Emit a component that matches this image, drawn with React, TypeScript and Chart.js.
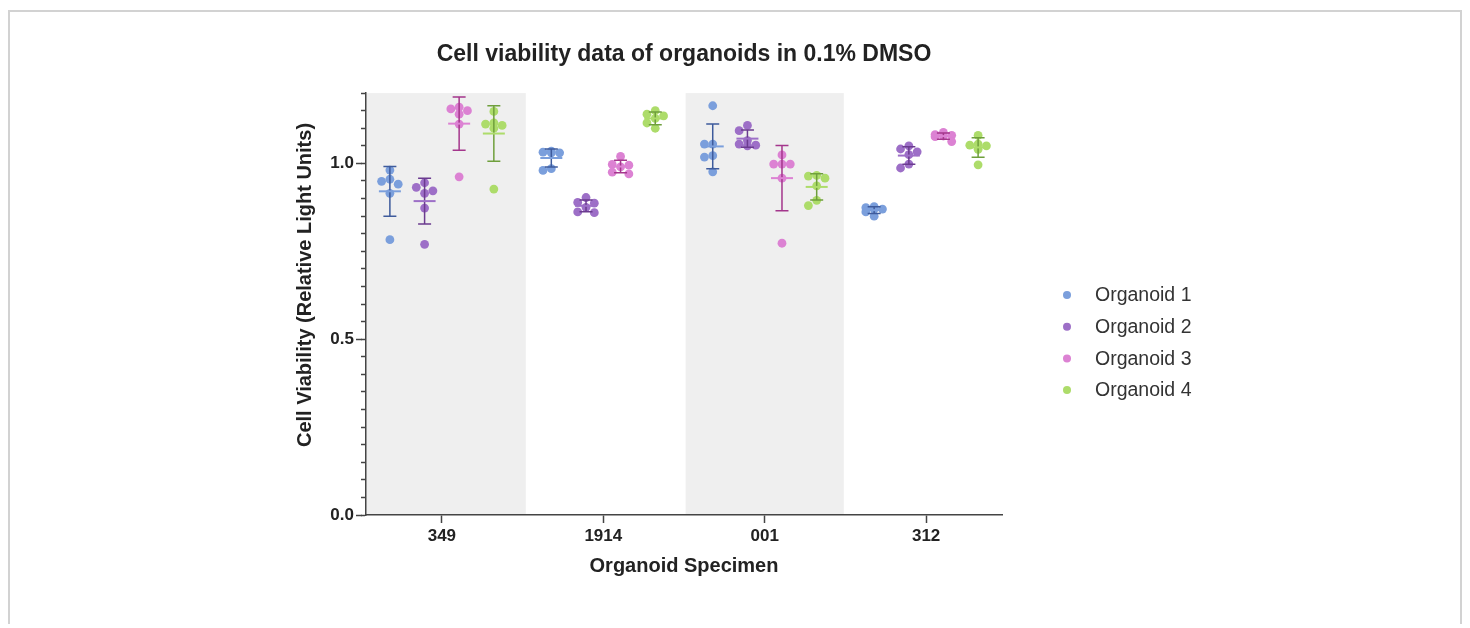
import React, { useEffect, useRef } from 'react';
import { Chart, registerables } from 'chart.js';

Chart.register(...registerables);

const FONT = '"Liberation Sans", Arial, Helvetica, sans-serif';

const categories = ['349', '1914', '001', '312'];
const seriesLabels = ['Organoid 1', 'Organoid 2', 'Organoid 3', 'Organoid 4'];
const yAxisTitle = 'Cell Viability (Relative Light Units)';

// values per category (349, 1914, 001, 312), six replicates each
const organoid1 = [
  [0.981, 0.955, 0.949, 0.941, 0.915, 0.783],
  [1.030, 1.035, 1.032, 1.030, 0.985, 0.980],
  [1.164, 1.055, 1.055, 1.022, 1.018, 0.976],
  [0.870, 0.874, 0.877, 0.870, 0.862, 0.850],
];
const organoid2 = [
  [0.945, 0.932, 0.922, 0.915, 0.873, 0.770],
  [0.903, 0.889, 0.887, 0.875, 0.860, 0.862],
  [1.108, 1.093, 1.065, 1.055, 1.052, 1.050],
  [1.050, 1.041, 1.033, 1.025, 0.998, 0.987],
];
const organoid3 = [
  [1.160, 1.155, 1.150, 1.140, 1.112, 0.962],
  [1.020, 0.997, 0.995, 0.990, 0.975, 0.970],
  [1.024, 0.998, 0.998, 0.998, 0.958, 0.773],
  [1.088, 1.082, 1.080, 1.078, 1.076, 1.062],
];
const organoid4 = [
  [1.148, 1.115, 1.112, 1.108, 1.100, 0.927],
  [1.150, 1.140, 1.135, 1.128, 1.115, 1.100],
  [0.966, 0.964, 0.958, 0.936, 0.895, 0.880],
  [1.080, 1.055, 1.052, 1.050, 1.040, 0.996],
];
const allSeries = [organoid1, organoid2, organoid3, organoid4];

const yTickStep = 0.05;
const yMax = 1.2;
const yLabelEvery = 0.5;

const pointColors = ['#7b9fdc', '#9d6fc7', '#dc82d3', '#addc6a'];
const barColors = ['#3e5b9c', '#6b3b8f', '#a4368c', '#6f9f3c'];

const groupOffsets = [-0.322, -0.107, 0.107, 0.322];
const shadeRanges = [
  [-0.47, 0.52],
  [1.51, 2.49],
];
const X_MIN = -0.47;
const X_MAX = 3.47;

// approximate px per unit for the beeswarm layout
const X_PX = 636 / (X_MAX - X_MIN);
const Y_PX = 422 / yMax;

function swarm(values: number[]): number[] {
  const step = 8.3;
  const minD = 8.5;
  const order = values.map((_, i) => i).sort((a, b) => values[b] - values[a]);
  const placed: { x: number; y: number }[] = [];
  const offs = new Array(values.length).fill(0);
  for (const i of order) {
    const y = values[i] * Y_PX;
    let best = 0;
    let bestD = -1;
    for (const c of [0, -1, 1]) {
      const x = c * step;
      let d = Infinity;
      for (const p of placed) d = Math.min(d, Math.hypot(p.x - x, p.y - y));
      if (d >= minD) {
        best = c;
        bestD = d;
        break;
      }
      if (d > bestD) {
        bestD = d;
        best = c;
      }
    }
    placed.push({ x: best * step, y });
    offs[i] = (best * step) / X_PX;
  }
  return offs;
}

function meanSd(values: number[]) {
  const m = values.reduce((a, b) => a + b, 0) / values.length;
  const v = values.reduce((a, b) => a + (b - m) * (b - m), 0) / (values.length - 1);
  return { m, sd: Math.sqrt(v) };
}

const shadePlugin = {
  id: 'shade',
  beforeDraw(chart: any) {
    const { ctx, chartArea, scales } = chart;
    ctx.save();
    ctx.fillStyle = '#efefef';
    for (const [a, b] of shadeRanges) {
      const x1 = scales.x.getPixelForValue(a);
      const x2 = scales.x.getPixelForValue(b);
      ctx.fillRect(x1, chartArea.top, x2 - x1, chartArea.bottom - chartArea.top);
    }
    ctx.restore();
  },
};

const axisExtrasPlugin = {
  id: 'axisExtras',
  afterDraw(chart: any) {
    const { ctx, chartArea, scales } = chart;
    ctx.save();
    ctx.strokeStyle = '#444';
    ctx.lineWidth = 1.5;
    for (let v = 0; v <= yMax + 1e-9; v += yLabelEvery) {
      const y = Math.round(scales.y.getPixelForValue(v)) + 0.5;
      ctx.beginPath();
      ctx.moveTo(chartArea.left - 10, y);
      ctx.lineTo(chartArea.left - 4, y);
      ctx.stroke();
    }
    // y axis title
    ctx.translate(305, 285);
    ctx.rotate(-Math.PI / 2);
    ctx.font = `bold 20px ${FONT}`;
    ctx.fillStyle = '#222';
    ctx.textAlign = 'center';
    ctx.textBaseline = 'middle';
    ctx.fillText(yAxisTitle, 0, 0);
    ctx.restore();
  },
};

const errorBarPlugin = {
  id: 'errorBars',
  afterDatasetsDraw(chart: any) {
    const { ctx, scales } = chart;
    ctx.save();
    allSeries.forEach((series, s) => {
      series.forEach((vals, c) => {
        const { m, sd } = meanSd(vals);
        const x = scales.x.getPixelForValue(c + groupOffsets[s]);
        const ym = scales.y.getPixelForValue(m);
        const yt = scales.y.getPixelForValue(m + sd);
        const yb = scales.y.getPixelForValue(m - sd);
        ctx.strokeStyle = barColors[s];
        ctx.lineWidth = 1.5;
        ctx.beginPath();
        ctx.moveTo(x, yt);
        ctx.lineTo(x, yb);
        ctx.moveTo(x - 6.5, yt);
        ctx.lineTo(x + 6.5, yt);
        ctx.moveTo(x - 6.5, yb);
        ctx.lineTo(x + 6.5, yb);
        ctx.stroke();
        ctx.strokeStyle = pointColors[s];
        ctx.lineWidth = 2;
        ctx.beginPath();
        ctx.moveTo(x - 11, ym);
        ctx.lineTo(x + 11, ym);
        ctx.stroke();
      });
    });
    ctx.restore();
  },
};

const legendPlugin = {
  id: 'customLegend',
  afterDraw(chart: any) {
    const { ctx } = chart;
    ctx.save();
    ctx.font = `19.5px ${FONT}`;
    ctx.textBaseline = 'middle';
    ctx.textAlign = 'left';
    chart.data.datasets.forEach((ds: any, i: number) => {
      const y = 295 + i * 31.7;
      ctx.fillStyle = pointColors[i];
      ctx.beginPath();
      ctx.arc(1067, y, 4, 0, Math.PI * 2);
      ctx.fill();
      ctx.fillStyle = '#333';
      ctx.fillText(ds.label, 1095, y + 1);
    });
    ctx.restore();
  },
};

export default function App() {
  const ref = useRef<HTMLCanvasElement | null>(null);

  useEffect(() => {
    if (!ref.current) return;
    const datasets = allSeries.map((series, s) => {
      const data: { x: number; y: number }[] = [];
      series.forEach((vals, c) => {
        const offs = swarm(vals);
        vals.forEach((v, k) => data.push({ x: c + groupOffsets[s] + offs[k], y: v }));
      });
      return {
        label: seriesLabels[s],
        data,
        backgroundColor: pointColors[s],
        borderWidth: 0,
        pointRadius: 4.4,
        showLine: false,
      };
    });

    const chart = new Chart(ref.current, {
      type: 'scatter',
      data: { datasets },
      plugins: [shadePlugin, errorBarPlugin, axisExtrasPlugin, legendPlugin],
      options: {
        responsive: false,
        animation: false,
        layout: { padding: { left: 286, right: 468, top: 0, bottom: 0 } },
        plugins: {
          legend: { display: false },
          tooltip: { enabled: false },
          title: {
            display: true,
            text: 'Cell viability data of organoids in 0.1% DMSO',
            fullSize: false,
            color: '#222',
            font: { family: FONT, size: 23, weight: 'bold' },
            padding: { top: 41, bottom: 24.5 },
          },
        },
        scales: {
          x: {
            type: 'linear',
            min: X_MIN,
            max: X_MAX,
            afterBuildTicks: (scale: any) => {
              scale.ticks = categories.map((_, i) => ({ value: i }));
            },
            afterFit: (scale: any) => {
              scale.height = 113;
            },
            ticks: {
              callback: (v: any) => categories[Math.round(v)] ?? '',
              color: '#222',
              font: { family: FONT, size: 17, weight: 'bold' },
              padding: 3,
              autoSkip: false,
              maxRotation: 0,
            },
            grid: {
              drawOnChartArea: false,
              drawTicks: true,
              tickLength: 8,
              tickColor: '#444',
              tickWidth: 1.5,
            },
            border: { display: true, color: '#444', width: 1.5 },
            title: {
              display: true,
              text: 'Organoid Specimen',
              color: '#222',
              font: { family: FONT, size: 20, weight: 'bold' },
              padding: { top: 0, bottom: 50 },
            },
          },
          y: {
            type: 'linear',
            min: 0,
            max: yMax,
            afterBuildTicks: (scale: any) => {
              const t: { value: number }[] = [];
              const n = Math.round(yMax / yTickStep);
              for (let i = 0; i <= n; i++) t.push({ value: +(i * yTickStep).toFixed(4) });
              scale.ticks = t;
            },
            afterFit: (scale: any) => {
              scale.width = 80;
            },
            ticks: {
              callback: (v: any) =>
                Math.abs(v / yLabelEvery - Math.round(v / yLabelEvery)) < 1e-6 ? Number(v).toFixed(1) : '',
              color: '#222',
              font: { family: FONT, size: 17, weight: 'bold' },
              padding: 7,
              autoSkip: false,
            },
            grid: {
              drawOnChartArea: false,
              drawTicks: true,
              tickLength: 5,
              tickColor: '#444',
              tickWidth: 1.5,
            },
            border: { display: true, color: '#444', width: 1.5 },
            title: { display: false },
          },
        },
      },
    });
    return () => chart.destroy();
  }, []);

  return (
    <>
      <div
        style={{
          position: 'absolute',
          left: 8,
          top: 10,
          width: 1450,
          height: 612,
          borderTop: '2px solid #d2d2d2',
          borderLeft: '2px solid #d2d2d2',
          borderRight: '2px solid #d2d2d2',
          boxSizing: 'content-box',
        }}
      />
      <canvas
        ref={ref}
        width={1470}
        height={628}
        style={{ position: 'absolute', left: 0, top: 0, width: 1470, height: 628 }}
      />
    </>
  );
}
